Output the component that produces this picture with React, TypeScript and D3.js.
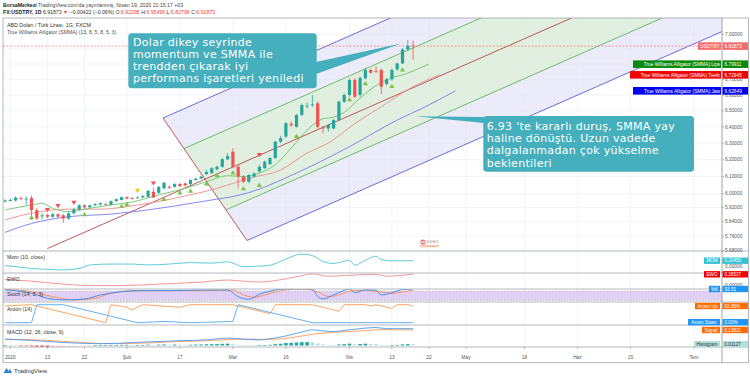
import React from "react";
import * as d3 from "d3";

// ---------------- DATA ----------------
// Daily candles FX:USDTRY, 31 Dec 2019 .. 17 Apr 2020 (trading-day index 0..77)
const opens = [5.955,5.958,5.961,5.975,5.968,5.975,5.906,5.870,5.878,5.868,5.882,5.876,5.858,5.887,5.910,5.933,5.922,5.933,5.937,5.941,5.937,5.957,5.964,5.980,5.974,5.975,5.978,5.982,6.011,6.005,6.031,6.040,6.040,6.056,6.060,6.056,6.080,6.088,6.115,6.120,6.143,6.158,6.203,6.248,6.158,6.100,6.070,6.100,6.130,6.150,6.174,6.210,6.309,6.340,6.418,6.400,6.474,6.530,6.536,6.547,6.400,6.390,6.390,6.442,6.557,6.600,6.696,6.600,6.707,6.761,6.755,6.761,6.670,6.700,6.765,6.804,6.897,6.92295];
const highs = [5.968,5.972,5.985,5.985,5.985,5.990,5.918,5.890,5.885,5.890,5.888,5.884,5.894,5.918,5.940,5.938,5.938,5.947,5.950,5.947,5.961,5.973,5.984,5.984,5.980,5.984,5.992,6.021,6.035,6.044,6.068,6.048,6.062,6.062,6.065,6.084,6.093,6.106,6.140,6.155,6.165,6.210,6.240,6.270,6.168,6.109,6.115,6.127,6.170,6.195,6.215,6.315,6.345,6.430,6.435,6.480,6.545,6.550,6.600,6.560,6.405,6.420,6.448,6.565,6.610,6.705,6.710,6.720,6.775,6.770,6.785,6.770,6.710,6.770,6.810,6.905,6.960,6.95496];
const lows = [5.948,5.955,5.955,5.962,5.933,5.850,5.850,5.853,5.858,5.860,5.862,5.835,5.850,5.880,5.905,5.915,5.918,5.930,5.932,5.932,5.932,5.953,5.961,5.967,5.966,5.970,5.975,5.977,5.975,5.998,6.025,6.028,6.035,6.038,6.042,6.050,6.075,6.085,6.108,6.115,6.138,6.152,6.198,6.150,6.031,6.062,6.062,6.094,6.125,6.145,6.170,6.205,6.300,6.330,6.400,6.395,6.468,6.515,6.525,6.390,6.360,6.370,6.385,6.435,6.550,6.590,6.580,6.590,6.700,6.735,6.740,6.606,6.660,6.690,6.755,6.800,6.885,6.82796];
const closes = [5.961,5.964,5.977,5.972,5.971,5.906,5.858,5.876,5.868,5.882,5.868,5.858,5.887,5.910,5.933,5.922,5.933,5.940,5.945,5.937,5.957,5.968,5.980,5.972,5.972,5.978,5.986,6.017,5.978,6.040,6.064,6.034,6.056,6.044,6.048,6.080,6.088,6.100,6.127,6.149,6.158,6.203,6.222,6.158,6.100,6.070,6.109,6.119,6.158,6.188,6.210,6.309,6.330,6.422,6.410,6.474,6.536,6.532,6.540,6.400,6.390,6.411,6.442,6.557,6.600,6.696,6.589,6.709,6.761,6.744,6.750,6.653,6.700,6.761,6.804,6.897,6.920,6.91873];

const timeTickIdx = [1, 8, 15, 23, 33, 43, 53, 65, 73, 80, 87, 98, 108, 118, 130];
const timeTickLabels = ["2020", "13", "22", "Şub", "17", "Mar", "16", "Nis", "13", "22", "May", "18", "Haz", "15", "Tem"];
const priceTicks = [7.0, 6.9, 6.8, 6.7, 6.6, 6.5, 6.4, 6.3, 6.2, 6.1, 6.0, 5.92, 5.84, 5.76, 5.68];
const priceTickShown = [true, false, false, true, true, true, true, true, true, true, true, true, true, true, true];

// Alligator (SMMA) lines, [bar index, price] (displaced forward)
const lipsPts = [[0,5.907],[5,5.935],[7,5.944],[9,5.916],[12,5.897],[16,5.916],[20,5.935],[24,5.952],[29,5.993],[34,6.031],[38,6.07],[42,6.105],[45,6.10],[48,6.12],[51,6.17],[54,6.27],[57,6.38],[60,6.45],[62,6.46],[64,6.49],[67,6.58],[70,6.66],[73,6.71],[76,6.74],[78,6.77],[80,6.79911]];
const teethPts = [[0,5.85],[5,5.888],[12,5.911],[18,5.911],[25,5.935],[34,5.987],[40,6.031],[46,6.09],[52,6.139],[57,6.24],[61,6.301],[66,6.42],[71,6.526],[77,6.653],[82,6.72945]];
const jawPts = [[0,5.78],[5,5.83],[12,5.868],[20,5.883],[27,5.907],[37,5.954],[46,6.006],[55,6.121],[65,6.279],[74,6.442],[79,6.52],[85,6.62649]];

// fractal markers [bar index, price]
const upMarks = [[5,5.865],[15,5.882],[22,5.93],[23,5.941],[30,5.97],[33,6.007],[35,6.017],[38,6.06],[40,6.109],[43,6.124],[45,6.031],[48,6.051],[55,6.344],[65,6.572],[68,6.675],[73,6.657],[75,6.765]];
const downMarks = [[8,5.906],[10,5.929],[13,5.948],[28,6.06],[48,6.228]];
const yellowMarks = [[25,6.017]];

// pitchfork anchors A, B, C  [bar index, price]
const forkIdx = [8, 29.81, 45.66];
const forkPrice = [5.6904, 6.4548, 5.735];

// lower panes, [bar index, value]
const momPts = [[0,0.04],[3,-0.02],[5,-0.06],[8,-0.09],[11,-0.11],[14,-0.06],[16,0.06],[20,0.09],[24,0.09],[27,0.06],[31,0.09],[35,0.14],[39,0.12],[42,0.17],[45,0.0],[48,0.02],[50,0.05],[53,0.26],[56,0.43],[58,0.38],[60,0.18],[62,0.11],[63,0.14],[65,0.22],[66,0.05],[68,0.22],[70,0.36],[71,0.24],[73,0.2],[75,0.2],[77,0.2045]];
const ewoPts = [[0,0.19],[5,0.13],[11,0.03],[16,-0.02],[22,-0.02],[29,0.03],[37,0.1],[42,0.17],[45,0.13],[48,0.1],[51,0.15],[55,0.28],[58,0.38],[61,0.3],[64,0.32],[67,0.35],[70,0.36],[72,0.3],[74,0.32],[77,0.36537]];
const stochK = [[0,87],[5,66],[8,34],[11,23],[15,29],[18,55],[22,76],[26,83],[31,83],[37,87],[42,87],[44,44],[46,27],[48,60],[50,80],[52,92],[55,95],[58,93],[59,45],[60,30],[62,55],[64,85],[65,95],[66,70],[68,88],[70,85],[71,55],[73,70],[75,90],[77,93.51]];
const stochD = [[0,92],[5,76],[9,44],[13,23],[17,34],[20,66],[24,83],[31,83],[37,83],[43,87],[45,55],[47,40],[49,55],[51,75],[53,88],[56,93],[59,75],[61,45],[63,55],[65,80],[67,85],[69,82],[71,75],[73,65],[75,75],[77,86]];
const aroonUp = [[0,93],[5,100],[19,0],[20,100],[23,86],[24,71],[26,100],[33,86],[35,100],[43,100],[50,50],[51,100],[58,100],[62,71],[63,64],[64,100],[68,100],[69,93],[70,100],[71,93],[73,79],[74,100],[76,100],[77,92.86]];
const aroonDown = [[0,0],[5,0],[6,100],[11,100],[25,0],[30,7],[35,0],[43,7],[44,100],[58,0],[77,0]];
const macdPts = [[0,0.057],[5,0.045],[11,0.027],[18,0.016],[26,0.03],[33,0.043],[38,0.05],[42,0.066],[45,0.057],[48,0.05],[50,0.06],[53,0.085],[56,0.12],[58,0.14],[60,0.13],[62,0.125],[65,0.14],[68,0.155],[70,0.16],[72,0.15],[74,0.15],[77,0.1494]];
const signalPts = [[0,0.055],[5,0.052],[11,0.037],[20,0.016],[28,0.025],[33,0.036],[38,0.042],[43,0.055],[46,0.056],[50,0.055],[53,0.062],[56,0.085],[58,0.1],[60,0.11],[62,0.118],[65,0.125],[68,0.133],[70,0.14],[72,0.142],[74,0.14],[77,0.13811]];
const histVals = [0.005,0.004,0.003,-0.002,-0.004,-0.008,-0.012,-0.014,-0.015,-0.014,-0.013,-0.012,-0.010,-0.008,-0.005,-0.003,-0.001,0.001,0.002,0.003,0.004,0.005,0.006,0.006,0.005,0.005,0.005,0.007,0.005,0.007,0.009,0.008,0.008,0.007,0.006,0.007,0.008,0.009,0.011,0.012,0.013,0.015,0.016,0.012,0.006,0.002,0.001,0.0005,0.002,0.004,0.006,0.012,0.016,0.022,0.024,0.027,0.03,0.03,0.028,0.018,0.01,0.006,0.004,0.009,0.012,0.016,0.01,0.013,0.016,0.014,0.012,0.004,0.002,0.004,0.006,0.01,0.012,0.01127];

const callout1 = ["Dolar dikey seyrinde", "momentum ve SMMA ile", "trendden çıkarak iyi", "performans işaretleri yeniledi"];
const callout2 = ["6.93 'te kararlı duruş, SMMA yay", "haline dönüştü. Uzun vadede", "dalgalanmadan çok yükselme", "beklentileri"];

// ---------------- RENDER ----------------
const FONT = "'Liberation Sans', Arial, sans-serif";
const CFONT = "'DejaVu Sans', Verdana, sans-serif";
const AX = 722;

export default function App() {
  const x = d3.scaleLinear().domain([0, 130]).range([5, 694]);
  const yP = d3.scaleLog().domain([6.0, 7.0]).range([193.7, 34]);
  const yMom = d3.scaleLinear().domain([0, 0.2045]).range([266.7, 260.7]);
  const yEwo = d3.scaleLinear().domain([0, 0.36537]).range([285, 274.3]);
  const ySto = d3.scaleLinear().domain([0, 100]).range([303.5, 288]);
  const yAr = d3.scaleLinear().domain([0, 100]).range([322.7, 304.7]);
  const yMacd = d3.scaleLinear().domain([0, 0.13811]).range([345.5, 330]);

  const mk = (pts: number[][], ys: any, curve: any = d3.curveMonotoneX) =>
    d3.line().x((d: any) => x(d[0])).y((d: any) => ys(d[1])).curve(curve)(pts as any) || "";

  // pitchfork geometry (screen space, anchored on data points)
  const P = forkIdx.map((v, k) => [x(v), yP(forkPrice[k])]);
  const [A, B, C] = P;
  const M = [(B[0] + C[0]) / 2, (B[1] + C[1]) / 2];
  const dx = M[0] - A[0], dy = M[1] - A[1];
  const far = (p: number[]) => [p[0] + dx * 12, p[1] + dy * 12];
  const G1 = [(B[0] + M[0]) / 2, (B[1] + M[1]) / 2];
  const G2 = [(C[0] + M[0]) / 2, (C[1] + M[1]) / 2];
  const poly = (pts: number[][]) => pts.map((p) => p.join(",")).join(" ");

  const last = closes.length - 1;
  const priceLab = [
    { v: closes[last], title: "USDTRY", w: 23, bg: "#f26d6d" },
    { v: lipsPts[lipsPts.length - 1][1], title: "True Williams Alligator (SMMA):Lips", w: 88, bg: "#0a8a0a" },
    { v: teethPts[teethPts.length - 1][1], title: "True Williams Alligator (SMMA):Teeth", w: 91, bg: "#f00000" },
    { v: jawPts[jawPts.length - 1][1], title: "True Williams Alligator (SMMA):Jaw", w: 88, bg: "#0000f0" },
  ];
  const lowerLab = [
    { y: yMom(0.2045), title: "MOM", val: "0.20450", w: 16, bg: "#32c3d3", fg: "#fff" },
    { y: yEwo(0.36537), title: "EWO", val: "0.36537", w: 16, bg: "#f00000", fg: "#fff" },
    { y: ySto(93.51), title: "%K", val: "93.51", w: 11, bg: "#2196f3", fg: "#fff" },
    { y: yAr(92.86), title: "Aroon Up", val: "92.86%", w: 25, bg: "#ff6d00", fg: "#fff" },
    { y: yAr(0) - 0.5, title: "Aroon Down", val: "0.00%", w: 32, bg: "#2196f3", fg: "#fff" },
    { y: yMacd(0.13811), title: "Signal", val: "0.13811", w: 18, bg: "#ff6d00", fg: "#fff" },
    { y: yMacd(0.01127), title: "Histogram", val: "0.01127", w: 26, bg: "#b2dfdb", fg: "#333" },
  ];

  const grid = "#eef1f6";
  const sep = "#a3a6ae";

  return (
    <svg width={750} height={378} style={{ position: "absolute", left: 0, top: 0, background: "#fff" }} fontFamily={FONT}>
      <defs>
        <clipPath id="cMain"><rect x={3} y={18} width={AX - 3} height={233} /></clipPath>
        <clipPath id="cMom"><rect x={3} y={251} width={AX - 3} height={22} /></clipPath>
        <clipPath id="cEwo"><rect x={3} y={273} width={AX - 3} height={16} /></clipPath>
        <clipPath id="cSto"><rect x={3} y={289} width={AX - 3} height={13} /></clipPath>
        <clipPath id="cAr"><rect x={3} y={302} width={AX - 3} height={23} /></clipPath>
        <clipPath id="cMacd"><rect x={3} y={325} width={AX - 3} height={22} /></clipPath>
      </defs>
      <rect x={0} y={0} width={750} height={378} fill="#fff" />

      {/* header */}
      <text x={3} y={7} fontSize={5.2} fill="#444">
        <tspan fontWeight="bold" fill="#222">BorsaMerkezi</tspan> TradingView.com'da yayınlanmış, Nisan 19, 2020 21:15:17 +03
      </text>
      <text x={3} y={14} fontSize={5.2} fill="#333">
        <tspan fontWeight="bold" fill="#222">FX:USDTRY, 1D</tspan> 6.91873 <tspan fill="#ef3b3b">▼</tspan> −0.00422 (−0.06%) O:<tspan fill="#ef3b3b">6.92295</tspan> H:<tspan fill="#ef3b3b">6.95496</tspan> L:<tspan fill="#ef3b3b">6.82796</tspan> C:<tspan fill="#ef3b3b">6.91873</tspan>
      </text>

      {/* grid */}
      {timeTickIdx.map((t, k) => (
        <line key={"vg" + k} x1={x(t)} x2={x(t)} y1={18} y2={347} stroke={grid} strokeWidth={0.8} />
      ))}
      {priceTicks.map((p, k) => (
        <line key={"hg" + k} x1={3} x2={AX} y1={yP(p)} y2={yP(p)} stroke={grid} strokeWidth={0.8} />
      ))}

      {/* pitchfork */}
      <g clipPath="url(#cMain)">
        <polygon points={poly([B, C, far(C), far(B)])} fill="#dedef5" fillOpacity={0.6} />
        <polygon points={poly([G1, G2, far(G2), far(G1)])} fill="#dcf0d6" fillOpacity={0.75} />
        <line x1={B[0]} y1={B[1]} x2={far(B)[0]} y2={far(B)[1]} stroke="#5c5ccf" strokeWidth={0.9} />
        <line x1={C[0]} y1={C[1]} x2={far(C)[0]} y2={far(C)[1]} stroke="#5c5ccf" strokeWidth={0.9} />
        <line x1={G1[0]} y1={G1[1]} x2={far(G1)[0]} y2={far(G1)[1]} stroke="#5cb85c" strokeWidth={0.9} />
        <line x1={G2[0]} y1={G2[1]} x2={far(G2)[0]} y2={far(G2)[1]} stroke="#5cb85c" strokeWidth={0.9} />
        <line x1={A[0]} y1={A[1]} x2={far(M)[0]} y2={far(M)[1]} stroke="#b5474a" strokeWidth={0.9} />
        <line x1={B[0]} y1={B[1]} x2={C[0]} y2={C[1]} stroke="#b5474a" strokeWidth={0.9} />

        {/* alligator */}
        <path d={mk(jawPts, yP)} fill="none" stroke="#7b7bf0" strokeWidth={0.9} />
        <path d={mk(teethPts, yP)} fill="none" stroke="#f28b8b" strokeWidth={0.9} />
        <path d={mk(lipsPts, yP)} fill="none" stroke="#6cc46c" strokeWidth={0.9} />

        {/* last price line */}
        <line x1={3} x2={AX} y1={yP(closes[last])} y2={yP(closes[last])} stroke="#f07a7a" strokeWidth={0.7} strokeDasharray="2,1.5" />

        {/* candles */}
        {closes.map((c, i) => {
          const o = opens[i];
          const col = c >= o ? "#26a69a" : "#ef5350";
          const cx = x(i);
          const yt = yP(Math.max(o, c)), yb = yP(Math.min(o, c));
          return (
            <g key={"c" + i}>
              <line x1={cx} x2={cx} y1={yP(highs[i])} y2={yP(lows[i])} stroke={col} strokeWidth={0.8} />
              <rect x={cx - 1.6} y={yt} width={3.2} height={Math.max(0.8, yb - yt)} fill={col} />
            </g>
          );
        })}
        {upMarks.map((m, k) => {
          const cx = x(m[0]), cy = yP(m[1]);
          return <path key={"u" + k} d={`M${cx - 2.6},${cy + 2} L${cx + 2.6},${cy + 2} L${cx},${cy - 2.2} Z`} fill="#7cc447" />;
        })}
        {downMarks.map((m, k) => {
          const cx = x(m[0]), cy = yP(m[1]);
          return <path key={"d" + k} d={`M${cx - 2.6},${cy - 2} L${cx + 2.6},${cy - 2} L${cx},${cy + 2.2} Z`} fill="#ef5350" />;
        })}
        {yellowMarks.map((m, k) => {
          const cx = x(m[0]), cy = yP(m[1]);
          return <path key={"y" + k} d={`M${cx - 2.6},${cy - 2} L${cx + 2.6},${cy - 2} L${cx},${cy + 2.2} Z`} fill="#f5c518" />;
        })}
      </g>

      {/* pane titles main */}
      <text x={7} y={26.8} fontSize={5.3} fill="#333">ABD Doları / Türk Lirası, 1G, FXCM</text>
      <text x={7} y={34} fontSize={5.1} fill="#555">True Williams Alligator (SMMA) (13, 8, 5, 8, 5, 3)</text>

      {/* event marker */}
      <g>
        <circle cx={423} cy={242} r={2.6} fill="#e57373" />
        <rect x={421} y={241.5} width={4} height={1.2} fill="#fff" />
        <text x={426.5} y={243} fontSize={3.6} fill="#666">2 4 H 2</text>
        <rect x={420} y={245} width={19} height={2.2} rx={1} fill="#f8c3a8" />
      </g>

      {/* callouts */}
      <path d={`M316,62 L401,43.5 L316,74 Z`} fill="#45afbd" />
      <rect x={128.3} y={33.3} width={188.4} height={55} rx={3.5} fill="#45afbd" />
      <text fontFamily={CFONT} fontSize={11} letterSpacing={0.3} fill="#fff">
        {callout1.map((t, k) => (
          <tspan key={k} x={133} y={45.6 + k * 12.1}>{t}</tspan>
        ))}
      </text>
      <path d={`M484,117 L415,116.3 L484,123 Z`} fill="#45afbd" />
      <rect x={483.3} y={116} width={210.7} height={55.7} rx={3.5} fill="#45afbd" />
      <text fontFamily={CFONT} fontSize={11} letterSpacing={0.3} fill="#fff">
        {callout2.map((t, k) => (
          <tspan key={k} x={486.7} y={130.2 + k * 12.1}>{t}</tspan>
        ))}
      </text>

      {/* lower panes */}
      <g clipPath="url(#cMom)">
        <path d={mk(momPts, yMom)} fill="none" stroke="#4fc3d9" strokeWidth={0.9} />
      </g>
      <text x={7} y={258.8} fontSize={5.3} fill="#333">Mom (10, close)</text>

      <g clipPath="url(#cEwo)">
        <path d={mk(ewoPts, yEwo)} fill="none" stroke="#f28b8b" strokeWidth={0.9} />
      </g>
      <text x={7} y={280.8} fontSize={5.3} fill="#333">EWO</text>

      <g clipPath="url(#cSto)">
        <rect x={3} y={ySto(80)} width={AX - 3} height={ySto(20) - ySto(80)} fill="#d9c4f2" fillOpacity={0.8} />
        <line x1={3} x2={AX} y1={ySto(80)} y2={ySto(80)} stroke="#999" strokeWidth={0.5} strokeDasharray="1.5,1.5" />
        <line x1={3} x2={AX} y1={ySto(20)} y2={ySto(20)} stroke="#999" strokeWidth={0.5} strokeDasharray="1.5,1.5" />
        <path d={mk(stochD, ySto)} fill="none" stroke="#ff8a50" strokeWidth={0.9} />
        <path d={mk(stochK, ySto)} fill="none" stroke="#2f8cf0" strokeWidth={0.9} />
      </g>
      <text x={7} y={295.5} fontSize={5.3} fill="#333">Stoch (14, 3, 3)</text>

      <g clipPath="url(#cAr)">
        <path d={mk(aroonUp, yAr, d3.curveLinear)} fill="none" stroke="#ff9a50" strokeWidth={0.9} />
        <path d={mk(aroonDown, yAr, d3.curveLinear)} fill="none" stroke="#56a8f5" strokeWidth={0.9} />
      </g>
      <text x={7} y={311.3} fontSize={5.3} fill="#333">Aroon (14)</text>

      <g clipPath="url(#cMacd)">
        {histVals.map((v, i) => {
          const prev = i > 0 ? histVals[i - 1] : v;
          const col = v >= 0 ? (v >= prev ? "#26a69a" : "#b2dfdb") : (v < prev ? "#ef5350" : "#ffcdd2");
          const y0 = yMacd(0), y1 = yMacd(v);
          return <rect key={"h" + i} x={x(i) - 1.8} width={3.6} y={Math.min(y0, y1)} height={Math.max(0.6, Math.abs(y1 - y0))} fill={col} />;
        })}
        <path d={mk(signalPts, yMacd)} fill="none" stroke="#ff9a50" strokeWidth={0.9} />
        <path d={mk(macdPts, yMacd)} fill="none" stroke="#4a9af2" strokeWidth={0.9} />
      </g>
      <text x={7} y={334.2} fontSize={5.3} fill="#333">MACD (12, 26, close, 9)</text>

      {/* pane separators & frame */}
      {[251, 273, 289, 302, 325, 347].map((yy, k) => (
        <line key={"s" + k} x1={3} x2={748.5} y1={yy} y2={yy} stroke={sep} strokeWidth={0.8} />
      ))}
      <rect x={3} y={18} width={745.5} height={344.7} fill="none" stroke={sep} strokeWidth={0.8} />
      <line x1={AX} x2={AX} y1={18} y2={362.7} stroke="#8a8d95" strokeWidth={0.8} />

      {/* price axis */}
      {priceTicks.map((p, k) => (
        <g key={"pt" + k}>
          <line x1={AX} x2={AX + 2} y1={yP(p)} y2={yP(p)} stroke="#8a8d95" strokeWidth={0.6} />
          {priceTickShown[k] && <text x={725} y={yP(p) + 1.7} fontSize={4.8} fill="#555">{d3.format(".5f")(p)}</text>}
        </g>
      ))}
      <text x={725} y={yMom(0) + 1.7} fontSize={4.8} fill="#555">0.00000</text>
      <text x={725} y={yEwo(0) + 1.7} fontSize={4.8} fill="#555">0.00000</text>

      {priceLab.map((l, k) => {
        const yc = yP(l.v);
        return (
          <g key={"pl" + k}>
            <rect x={AX - 1 - l.w} y={yc - 3.8} width={l.w} height={7.6} fill={l.bg} />
            <text x={AX - 2} y={yc + 1.7} fontSize={4.8} fill="#fff" textAnchor="end">{l.title}</text>
            <rect x={AX + 0.5} y={yc - 3.8} width={25.5} height={7.6} fill={l.bg} />
            <text x={724.5} y={yc + 1.7} fontSize={4.8} fill="#fff">{d3.format(".5f")(l.v)}</text>
          </g>
        );
      })}
      {lowerLab.map((l, k) => (
        <g key={"ll" + k}>
          <rect x={AX - 2 - l.w} y={l.y - 3.2} width={l.w} height={6.4} fill={l.bg} />
          <text x={AX - 2 - l.w / 2} y={l.y + 1.6} fontSize={4.6} fill={l.fg} textAnchor="middle">{l.title}</text>
          <rect x={AX + 0.5} y={l.y - 3.2} width={25.5} height={6.4} fill={l.bg} />
          <text x={724.5} y={l.y + 1.6} fontSize={4.6} fill={l.fg}>{l.val}</text>
        </g>
      ))}

      {/* time axis */}
      {timeTickIdx.map((t, k) => (
        <g key={"tt" + k}>
          <line x1={x(t)} x2={x(t)} y1={347} y2={349} stroke="#8a8d95" strokeWidth={0.6} />
          <text x={x(t)} y={359} fontSize={4.8} fill="#555" textAnchor="middle">{timeTickLabels[k]}</text>
        </g>
      ))}

      {/* logo */}
      <g>
        <path d="M3.5,373 L6.5,368 L8.5,371 L10,369 L12,373 Z" fill="#2f7de1" />
        <text x={14} y={373} fontSize={6} fill="#333">TradingView</text>
      </g>
    </svg>
  );
}
